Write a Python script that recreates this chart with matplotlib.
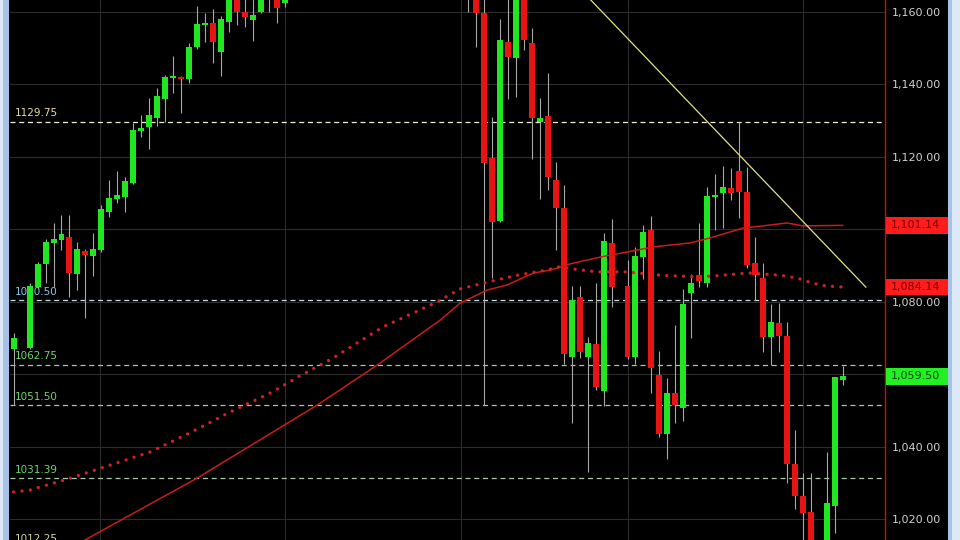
import numpy as np
import matplotlib.pyplot as plt
import matplotlib.transforms as mtransforms
from matplotlib.patches import Rectangle

nan = np.nan

# daily OHLC, one slot per bar (nan = no bar)
opens = [1067.0, nan, 1067.3, 1084.1, 1090.5, 1096.3, 1097.1, 1097.9, 1087.7, 1094.1,
         1092.7, 1094.3, 1104.8, 1108.4, 1109.0, 1112.8, 1127.2, 1128.3, 1130.8, 1136.0,
         1141.8, 1142.1, 1141.5, 1150.3, 1156.4, 1157.0, 1149.0, 1157.2, 1167.0, 1160.0,
         1157.8, 1160.0, 1170.0, 1166.0, 1162.5, 1168.0, 1171.0, 1174.0, 1178.0, 1182.0,
         1180.0, 1185.0, 1190.0, 1194.0, 1192.0, 1198.0, 1203.0, 1200.0, 1206.0, 1211.0,
         1207.0, 1188.0, 1196.0, 1201.0, 1186.0, 1192.0, 1180.0, 1175.0, 1168.0, 1159.7,
         1119.7, 1102.3, 1151.7, 1147.3, 1165.0, 1151.4, 1129.7, 1131.3, 1113.7, 1105.9,
         1064.8, 1081.4, 1064.8, 1068.4, 1055.4, 1096.3, nan, 1084.4, 1064.8, 1092.4,
         1099.9, 1059.9, 1043.6, 1054.9, 1050.8, 1082.5, 1087.4, 1085.2, 1109.0, 1110.1,
         1111.4, 1116.1, 1110.3, 1090.8, 1086.6, 1070.3, 1074.2, 1070.6, 1035.3, 1026.5,
         1022.1, 1011.0, 1011.0, 1023.7, 1058.5]
highs = [1071.4, nan, 1085.2, 1091.0, 1097.4, 1101.8, 1104.0, 1104.0, 1096.6, 1094.6,
         1099.0, 1106.8, 1113.7, 1116.1, 1114.5, 1129.4, 1131.6, 1136.3, 1139.0, 1142.6,
         1147.9, 1142.3, 1151.4, 1161.7, 1159.7, 1160.8, 1158.9, 1168.0, 1169.0, 1163.5,
         1164.0, 1169.0, 1172.0, 1168.0, 1170.0, 1173.0, 1176.0, 1180.0, 1184.0, 1188.0,
         1186.0, 1192.0, 1196.0, 1198.0, 1200.0, 1205.0, 1208.0, 1207.0, 1213.0, 1217.0,
         1212.0, 1200.0, 1205.0, 1206.0, 1195.0, 1198.0, 1188.0, 1180.0, 1172.0, 1165.0,
         1131.0, 1158.1, 1163.8, 1168.0, 1168.0, 1155.6, 1136.3, 1143.2, 1118.6, 1112.3,
         1084.4, 1084.4, 1070.3, 1085.2, 1099.0, 1102.9, nan, 1091.6, 1095.2, 1101.2,
         1103.7, 1066.5, 1059.0, 1073.7, 1083.6, 1087.7, 1101.8, 1111.7, 1115.3, 1117.5,
         1117.0, 1129.75, 1117.2, 1097.9, 1090.8, 1079.4, 1079.7, 1074.5, 1044.7, 1032.8,
         1032.8, 1013.0, 1038.6, 1059.3, 1062.3]
lows = [1051.5, nan, 1067.0, 1083.6, 1085.2, 1084.1, 1094.3, 1081.4, 1083.3, 1075.6,
        1087.2, 1093.8, 1103.4, 1107.3, 1104.8, 1112.6, 1125.5, 1122.2, 1128.6, 1129.7,
        1137.7, 1132.1, 1140.4, 1149.8, 1151.7, 1145.9, 1142.3, 1154.5, 1156.4, 1155.9,
        1152.0, 1159.7, 1160.0, 1157.0, 1161.4, 1164.5, 1168.0, 1171.0, 1175.0, 1178.0,
        1176.0, 1182.0, 1186.0, 1189.0, 1190.0, 1194.0, 1198.0, 1196.0, 1203.0, 1205.0,
        1185.0, 1182.0, 1190.0, 1184.0, 1178.0, 1176.0, 1170.0, 1160.0, 1150.3, 1051.5,
        1086.6, 1102.0, 1136.0, 1136.6, 1149.5, 1119.4, 1108.4, 1110.9, 1094.3, 1062.9,
        1046.6, 1064.6, 1033.1, 1055.7, 1051.3, 1078.6, nan, 1064.3, 1062.9, 1086.3,
        1054.9, 1042.8, 1036.7, 1046.6, 1047.2, 1070.1, 1084.1, 1084.1, 1099.9, 1100.4,
        1108.1, 1103.2, 1089.4, 1080.6, 1066.2, 1062.6, 1066.2, 1030.1, 1022.9, 1012.0,
        1009.0, 1008.0, 1008.0, 1016.3, 1057.1]
closes = [1070.1, nan, 1084.4, 1090.5, 1096.6, 1097.4, 1098.8, 1088.0, 1094.6, 1093.0,
          1094.6, 1105.7, 1108.7, 1109.5, 1113.4, 1127.4, 1128.0, 1131.6, 1136.8, 1142.1,
          1142.1, 1141.5, 1150.3, 1156.7, 1157.0, 1151.7, 1158.1, 1166.0, 1160.0, 1158.6,
          1159.2, 1167.0, 1165.0, 1161.1, 1168.0, 1171.0, 1174.0, 1178.0, 1182.0, 1180.0,
          1185.0, 1190.0, 1194.0, 1192.0, 1198.0, 1203.0, 1200.0, 1206.0, 1211.0, 1207.0,
          1188.0, 1196.0, 1201.0, 1186.0, 1192.0, 1180.0, 1175.0, 1168.0, 1159.7, 1118.3,
          1102.1, 1152.3, 1147.6, 1166.0, 1152.3, 1130.8, 1130.8, 1114.5, 1105.9, 1065.7,
          1080.5, 1066.2, 1068.7, 1056.6, 1096.8, 1084.1, nan, 1064.8, 1092.7, 1099.3,
          1061.8, 1043.6, 1054.9, 1051.6, 1079.4, 1085.2, 1085.8, 1109.2, 1109.5, 1111.7,
          1110.1, 1110.3, 1090.2, 1087.4, 1070.3, 1074.5, 1070.6, 1035.3, 1026.5, 1021.8,
          1011.5, 1010.0, 1024.6, 1059.3, 1059.5]

# slow moving average (solid) read at bar positions
ma_slow_x = [0, 8.9, 23.0, 38.1, 45.6, 53.5, 56.0, 59.4, 61.9, 65.2, 67.3, 69.8,
             73.6, 77.0, 80.2, 84.9, 87.4, 91.5, 94.0, 97.0, 99.0, 104]
ma_slow_y = [1003.5, 1014.3, 1031.4, 1051.6, 1062.6, 1075.0, 1079.7, 1083.3,
             1084.7, 1088.0, 1088.8, 1090.5, 1092.4, 1093.8, 1095.2, 1096.3, 1097.7,
             1100.4, 1101.0, 1101.8, 1101.0, 1101.14]

# faster moving average (dotted)
ma_fast_x = [0, 2.0, 7.1, 12.1, 17.1, 22.1, 27.2, 32.2, 35.9, 40.1, 46.3, 53.1, 56.0,
             58.9, 63.2, 66.9, 68.2, 70.2, 73.2, 76.9, 81.1, 86.1, 89.0, 92.1, 96.1,
             98.3, 100.2, 102.0, 104]
ma_fast_y = [1027.6, 1028.1, 1031.4, 1035.0, 1038.6, 1043.9, 1049.7, 1054.9, 1059.6,
             1064.6, 1073.1, 1080.0, 1083.6, 1085.2, 1087.4, 1088.8, 1089.7, 1089.1,
             1088.3, 1088.3, 1087.4, 1086.9, 1087.4, 1088.0, 1087.4, 1086.6, 1085.2,
             1084.4, 1084.14]

trend_x = [49, 106.9]
trend_y = [1217.0, 1084.1]

levels = [1129.75, 1080.50, 1062.75, 1051.50, 1031.39, 1012.25]
level_labels = ['1129.75', '1080.50', '1062.75', '1051.50', '1031.39', '1012.25']
level_text_colors = ['#e6dc9a', '#86c8ec', '#6ad86a', '#6ad86a', '#6ad86a', '#d8d8a0']
level_line_colors = ['#f0ecd0', '#c4dce4', '#a8c8a8', '#a8c8a8', '#a8c8a8', '#c8c8a8']

price_ticks = [1020, 1040, 1060, 1080, 1100, 1120, 1140, 1160]
hidden_ticks = [1060, 1100]  # covered by the price tags
month_lines = [10.83, 34.05, 56.1, 77.08, 99.0]

tags = [(1101.14, '1,101.14', '#ff1c1c', '#7a0000'),
        (1084.14, '1,084.14', '#ff1c1c', '#7a0000'),
        (1059.50, '1,059.50', '#22f022', '#0b4a0b')]

fig = plt.figure(figsize=(9.6, 5.4), dpi=100, facecolor='black')
ax = fig.add_axes([10 / 960, 0, 875 / 960, 1])
ax.set_facecolor('black')

o = np.array(opens)
h = np.array(highs)
l = np.array(lows)
c = np.array(closes)
idx = np.arange(len(o))
ok = ~np.isnan(o)
up = c >= o

ax.vlines(idx[ok], l[ok], h[ok], color='#a8a8a8', linewidth=0.8, zorder=3)
body_low = np.minimum(o, c)
body_h = np.maximum(np.abs(c - o), 0.55)
ax.bar(idx[ok & up], body_h[ok & up], width=0.75, bottom=body_low[ok & up],
       color='#22e622', linewidth=0, zorder=4)
ax.bar(idx[ok & ~up], body_h[ok & ~up], width=0.75, bottom=body_low[ok & ~up],
       color='#e81414', linewidth=0, zorder=4)

ax.plot(ma_slow_x, ma_slow_y, color='#c81c1c', linewidth=1.1, zorder=5)
ax.plot(ma_fast_x, ma_fast_y, color='#d42020', linewidth=2.4,
        linestyle=(0, (0.01, 2.5)), dash_capstyle='round', zorder=5)
ax.plot(trend_x, trend_y, color='#e4e080', linewidth=0.9, zorder=6)

for val, lab, tc, lc in zip(levels, level_labels, level_text_colors, level_line_colors):
    ax.axhline(val, color=lc, linewidth=0.9, linestyle=(0, (4, 3)), zorder=2)
    ax.text(0.005, val + 0.9, lab, transform=ax.get_yaxis_transform(), color=tc,
            fontsize=7.5, va='bottom', ha='left', zorder=2.5)

ax.set_xlim(-0.46, 109.3)
ax.set_ylim(1014.34, 1163.31)

ax.set_xticks(month_lines)
ax.set_xticklabels([])
ax.set_yticks(price_ticks)
ax.set_yticklabels(['' if v in hidden_ticks else f'{v:,.2f}' for v in price_ticks])
ax.yaxis.tick_right()
ax.tick_params(axis='y', colors='#d0d0d0', labelsize=8, length=0, pad=5)
ax.tick_params(axis='x', length=0)
ax.grid(True, color='#2c2c2c', linewidth=0.8, zorder=0)
ax.set_axisbelow(True)

for s in ['top', 'bottom', 'left']:
    ax.spines[s].set_visible(False)
ax.spines['right'].set_color('#cc1010')
ax.spines['right'].set_linewidth(1.0)

# price tags on the right axis
trans = mtransforms.blended_transform_factory(ax.transAxes, ax.transData)
for val, txt, bg, fg in tags:
    ax.add_patch(Rectangle((1.0015, val - 2.3), 0.0705, 4.6, transform=trans,
                           facecolor=bg, edgecolor='none', clip_on=False, zorder=7))
    ax.text(1.007, val, txt, transform=trans, color=fg, fontsize=8,
            va='center', ha='left', clip_on=False, zorder=8)

# window frame strips
fig.patches.append(Rectangle((0, 0), 3 / 960, 1, transform=fig.transFigure,
                             facecolor='#dde9f6', edgecolor='none'))
fig.patches.append(Rectangle((3 / 960, 0), 6 / 960, 1, transform=fig.transFigure,
                             facecolor='#a6c3e6', edgecolor='none'))
fig.patches.append(Rectangle((948 / 960, 0), 4 / 960, 1, transform=fig.transFigure,
                             facecolor='#a6c3e6', edgecolor='none'))
fig.patches.append(Rectangle((952 / 960, 0), 8 / 960, 1, transform=fig.transFigure,
                             facecolor='#dde9f6', edgecolor='none'))

fig.savefig('out.png', dpi=100, facecolor='black')
